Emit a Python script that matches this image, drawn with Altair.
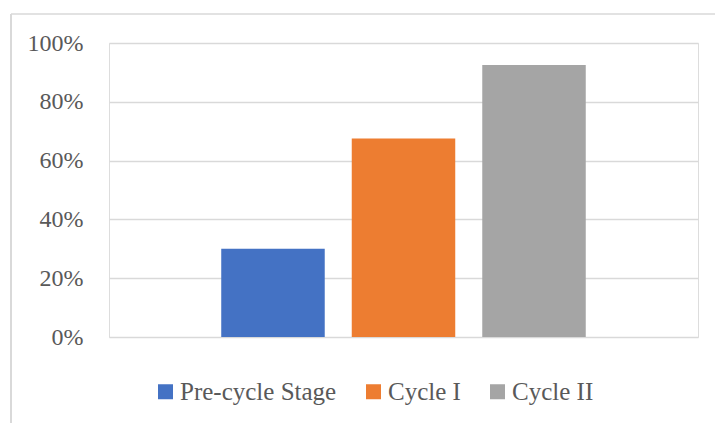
import altair as alt
import pandas as pd

series = ["Pre-cycle Stage", "Cycle I", "Cycle II"]
values = [0.30, 0.675, 0.925]
colors = ["#4472C4", "#ED7D31", "#A5A5A5"]
y_ticks = [0, 0.2, 0.4, 0.6, 0.8, 1.0]

FONT = "Palatino Linotype, Book Antiqua, Palatino, Liberation Serif, serif"
TEXT = "#595959"
GRID = "#D9D9D9"

df = pd.DataFrame({"series": series, "value": values})

bars = alt.Chart(df).mark_bar().encode(
    x=alt.X("series:N", sort=series, axis=None,
            scale=alt.Scale(paddingInner=0.207, paddingOuter=0.86)),
    y=alt.Y("value:Q", scale=alt.Scale(domain=[0, 1]),
            axis=alt.Axis(values=y_ticks, format=".0%", title=None,
                          domain=False, ticks=False, labelPadding=26,
                          labelFont=FONT, labelFontSize=24, labelColor=TEXT,
                          gridColor=GRID, gridWidth=1.5)),
    color=alt.Color("series:N", sort=series,
                    scale=alt.Scale(domain=series, range=colors),
                    legend=alt.Legend(title=None, orient="none", legendX=44, legendY=336,
                                      direction="horizontal", symbolType="square",
                                      symbolSize=225, symbolStrokeWidth=0,
                                      labelFont=FONT, labelFontSize=25, labelColor=TEXT,
                                      labelOffset=2, columnPadding=24, padding=0)),
)

frame_df = pd.DataFrame({"k": [0]})
top_rule = alt.Chart(frame_df).mark_rule(color=GRID, strokeWidth=1.3).encode(
    x=alt.value(-98), x2=alt.value(620), y=alt.value(-29))
left_rule = alt.Chart(frame_df).mark_rule(color=GRID, strokeWidth=2).encode(
    x=alt.value(-98), y=alt.value(-29), y2=alt.value(400))

chart = alt.layer(top_rule, left_rule, bars).properties(
    width=589, height=294,
    padding={"left": 109, "top": 43, "right": 17, "bottom": 86},
    autosize=alt.AutoSizeParams(type="none"),
).configure_view(stroke=None).configure(background="white")

chart.save("out.html", embed_options={"renderer": "svg", "actions": False})
